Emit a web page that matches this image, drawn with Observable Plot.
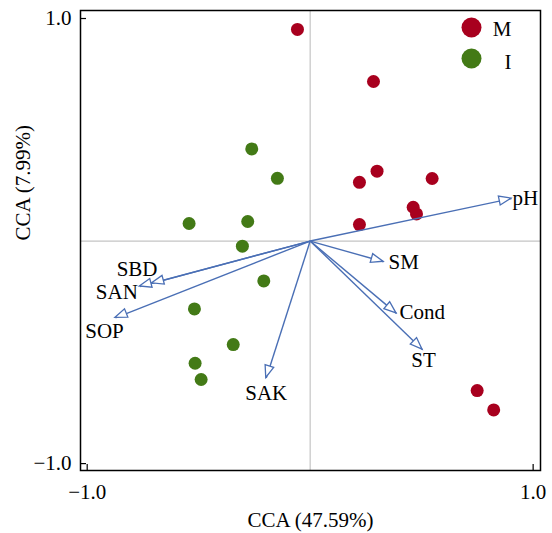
<!DOCTYPE html>
<html>
<head>
<meta charset="utf-8">
<script src="https://cdn.jsdelivr.net/npm/d3@7"></script>
<script src="https://cdn.jsdelivr.net/npm/@observablehq/plot@0.6"></script>
<style>
  html, body { margin: 0; padding: 0; background: #fff; }
  #chart { position: relative; width: 552px; height: 533px; }
</style>
</head>
<body>
<div id="chart"></div>
<script>
// ---- data ----
const groups = ["M", "I"];
const groupColors = ["#a8001e", "#437a16"];

const mX = [-0.057, 0.284, 0.221, 0.300, 0.547, 0.462, 0.477, 0.221, 0.749, 0.823];
const mY = [0.951, 0.717, 0.264, 0.314, 0.281, 0.152, 0.122, 0.074, -0.672, -0.759];

const iX = [-0.262, -0.147, -0.543, -0.280, -0.304, -0.208, -0.519, -0.345, -0.516, -0.489];
const iY = [0.414, 0.282, 0.079, 0.088, -0.023, -0.179, -0.305, -0.465, -0.549, -0.622];

const envNames = ["pH", "SM", "Cond", "ST", "SBD", "SAN", "SOP", "SAK"];
const envX = [0.903, 0.329, 0.387, 0.504, -0.709, -0.764, -0.873, -0.197];
const envY = [0.191, -0.093, -0.325, -0.488, -0.190, -0.204, -0.345, -0.615];

const axisTicks = [-1, 1];
const xLabel = "CCA (47.59%)";
const yLabel = "CCA (7.99%)";

// ---- build ----
const sites = [
  ...mX.map((x, i) => ({x, y: mY[i], g: "M"})),
  ...iX.map((x, i) => ({x, y: iY[i], g: "I"}))
];
const env = envNames.map((n, i) => ({name: n, x: envX[i], y: envY[i]}));

const blue = "#4a6fb5";
const labelPlace = {
  pH:   {textAnchor: "start", dx: 1, dy: 0},
  SM:   {textAnchor: "start", dx: 5, dy: 1},
  Cond: {textAnchor: "start", dx: 3, dy: -1},
  ST:   {textAnchor: "middle", dx: 1, dy: 11},
  SBD:  {textAnchor: "middle", dx: -15, dy: -14},
  SAN:  {textAnchor: "middle", dx: -23, dy: 6},
  SOP:  {textAnchor: "middle", dx: -11, dy: 13},
  SAK:  {textAnchor: "middle", dx: 0, dy: 15}
};

function arrowHeads(index, scales) {
  const g = d3.create("svg:g");
  const x0 = scales.x(0), y0 = scales.y(0);
  env.forEach(d => {
    const x1 = scales.x(d.x), y1 = scales.y(d.y);
    const a = Math.atan2(y1 - y0, x1 - x0);
    const L = 12, W = 4.5;
    const bx = x1 - L * Math.cos(a), by = y1 - L * Math.sin(a);
    const px = -Math.sin(a) * W, py = Math.cos(a) * W;
    g.append("path")
      .attr("d", `M${x1},${y1}L${bx + px},${by + py}L${bx - px},${by - py}Z`)
      .attr("fill", "white")
      .attr("stroke", blue)
      .attr("stroke-width", 1.3)
      .attr("stroke-linejoin", "miter");
  });
  return g.node();
}

const plot = Plot.plot({
  width: 552,
  height: 533,
  marginLeft: 80,
  marginRight: 12,
  marginTop: 10,
  marginBottom: 63,
  style: {fontFamily: "'Liberation Serif', 'Times New Roman', serif", fontSize: "21px", color: "black", background: "white"},
  x: {domain: [-1.03, 1.033], label: null},
  y: {domain: [-1.031, 1.036], label: null},
  color: {domain: groups, range: groupColors},
  marks: [
    Plot.ruleX([0], {stroke: "#c4c4c4", strokeWidth: 1.2}),
    Plot.ruleY([0], {stroke: "#c4c4c4", strokeWidth: 1.2}),
    Plot.dot(sites, {x: "x", y: "y", fill: "g", r: 6.5, stroke: "none"}),
    Plot.link(env, {x1: () => 0, y1: () => 0, x2: "x", y2: "y", stroke: blue, strokeWidth: 1.4}),
    arrowHeads,
    ...env.map(d => Plot.text([d], {x: "x", y: "y", text: "name", fill: "black", fontSize: 21, ...labelPlace[d.name]})),
    Plot.axisX(axisTicks, {tickSize: 0, tickPadding: 14, tickFormat: d3.format(".1f"), label: null, fontSize: 21}),
    Plot.axisY(axisTicks, {tickSize: 0, tickPadding: 9, tickFormat: d3.format(".1f"), label: null, fontSize: 21}),
    Plot.tickX(axisTicks, {x: d => d, insetTop: 454, stroke: "black", strokeWidth: 1.2}),
    Plot.tickY(axisTicks, {y: d => d, insetRight: 454, stroke: "black", strokeWidth: 1.2}),
    Plot.frame({stroke: "black", strokeWidth: 1.5}),
    Plot.text([xLabel], {frameAnchor: "bottom", dy: 50, lineAnchor: "middle", text: d => d, fontSize: 21}),
    Plot.text([yLabel], {frameAnchor: "left", dx: -57, rotate: -90, text: d => d, fontSize: 21}),
    ...groups.map((g, i) => Plot.dot([g], {frameAnchor: "top-right", dx: -69, dy: 17 + i * 31, r: 10, fill: groupColors[i]})),
    ...groups.map((g, i) => Plot.text([g], {frameAnchor: "top-right", dx: -29, dy: 19 + i * 33, lineAnchor: "middle", text: d => d, fontSize: 21}))
  ]
});
document.getElementById("chart").appendChild(plot);
</script>
</body>
</html>
